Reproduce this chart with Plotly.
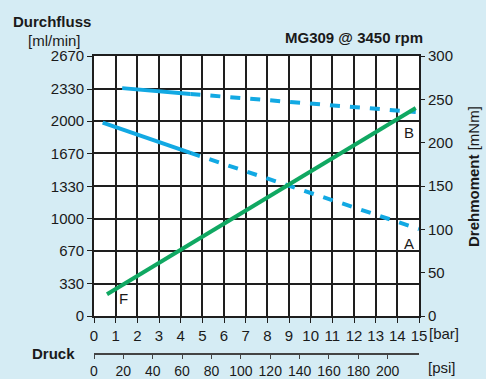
import plotly.graph_objects as go

# ---- data ----
bar_ticks = list(range(0, 16))
flow_ticks = [0, 330, 670, 1000, 1330, 1670, 2000, 2330, 2670]
flow_ticktext = ["0", "330", "670", "1000", "1330", "1670", "2000", "2330", "2670"]
torque_ticks = [0, 50, 100, 150, 200, 250, 300]
psi_ticks = [0, 20, 40, 60, 80, 100, 120, 140, 160, 180, 200]

a_solid_x = [0.4, 4.45]
a_solid_y = [1985, 1675]
a_dash_x = [4.45, 15.0]
a_dash_y = [1675, 893]

b_solid_x = [1.3, 4.45]
b_solid_y = [2340, 2280]
b_dash_x = [4.45, 14.85]
b_dash_y = [2280, 2095]

f_x = [0.6, 14.85]
f_torque = [25, 240]

BLUE = "#12a9e3"
GREEN = "#10a862"
BG = "#d5ecf4"
GRID = "#1e1e1e"
FONT = "Liberation Sans, Arial, sans-serif"

W, H = 486, 379
L_M, R_M, T_M, B_M = 94, 67, 56, 20
AW = W - L_M - R_M
AH = H - T_M - B_M
y_low = (H - B_M - 316) / AH
psi_pos = (H - B_M - 354) / AH


def px(x):
    return (x - L_M) / AW


def py(y):
    return (H - B_M - y) / AH


fig = go.Figure()
fig.add_trace(go.Scatter(x=f_x, y=f_torque, mode="lines", yaxis="y2",
                         line=dict(color=GREEN, width=4), showlegend=False))
fig.add_trace(go.Scatter(x=a_solid_x, y=a_solid_y, mode="lines",
                         line=dict(color=BLUE, width=4), showlegend=False))
fig.add_trace(go.Scatter(x=a_dash_x, y=a_dash_y, mode="lines",
                         line=dict(color=BLUE, width=4, dash="10px,10px"), showlegend=False))
fig.add_trace(go.Scatter(x=b_solid_x, y=b_solid_y, mode="lines",
                         line=dict(color=BLUE, width=4), showlegend=False))
fig.add_trace(go.Scatter(x=b_dash_x, y=b_dash_y, mode="lines",
                         line=dict(color=BLUE, width=4, dash="10px,10px"), showlegend=False))
# invisible trace to activate psi axis
fig.add_trace(go.Scatter(x=[0], y=[0], xaxis="x2", mode="markers",
                         marker=dict(opacity=0), showlegend=False, hoverinfo="skip"))

fig.update_layout(
    width=W, height=H,
    margin=dict(l=L_M, r=R_M, t=T_M, b=B_M, autoexpand=False),
    paper_bgcolor=BG, plot_bgcolor="white",
    font=dict(family=FONT, size=15, color="#1a1a1a"),
    xaxis=dict(range=[0, 15], tickvals=bar_ticks, showgrid=True, gridcolor=GRID,
               gridwidth=1.6, showline=True, linecolor=GRID, linewidth=1.6,
               mirror=True, ticks="outside", ticklen=5, tickcolor=GRID,
               zeroline=False, fixedrange=True, automargin=False),
    yaxis=dict(range=[0, 2670], domain=[y_low, 1], tickvals=flow_ticks,
               ticktext=flow_ticktext, showgrid=True, gridcolor=GRID, gridwidth=1.6,
               showline=True, linecolor=GRID, linewidth=1.6, mirror=True,
               ticks="outside", ticklen=5, tickcolor=GRID, zeroline=False,
               automargin=False),
    yaxis2=dict(range=[0, 300], overlaying="y", side="right", tickvals=torque_ticks,
                showgrid=False, ticks="outside", ticklen=5, tickcolor=GRID,
                zeroline=False, automargin=False, showline=False),
    xaxis2=dict(range=[0, 221.3], overlaying="x", anchor="free", position=psi_pos,
                side="bottom", tickvals=psi_ticks, showgrid=False, showline=True,
                linecolor="#444", linewidth=1.6, ticks="outside", ticklen=4,
                tickcolor="#444", zeroline=False, automargin=False,
                tickfont=dict(size=14)),
)

ann = [
    dict(x=52, y=22, text="<b>Durchfluss</b>", size=15),
    dict(x=54, y=41, text="[ml/min]", size=15),
    dict(x=354, y=38, text="<b>MG309 @ 3450 rpm</b>", size=15),
    dict(x=444, y=333, text="[bar]", size=15),
    dict(x=442, y=367, text="[psi]", size=15),
    dict(x=53, y=353, text="<b>Druck</b>", size=15),
    dict(x=409, y=132, text="B", size=15),
    dict(x=409, y=243, text="A", size=15),
    dict(x=123, y=298, text="F", size=15),
]
for a in ann:
    fig.add_annotation(x=px(a["x"]), y=py(a["y"]), xref="paper", yref="paper",
                       text=a["text"], showarrow=False, xanchor="center", yanchor="middle",
                       font=dict(family=FONT, size=a["size"], color="#1a1a1a"))
fig.add_annotation(x=px(473), y=py(177), xref="paper", yref="paper",
                   text="<b>Drehmoment</b> [mNm]", showarrow=False, textangle=-90,
                   xanchor="center", yanchor="middle",
                   font=dict(family=FONT, size=15, color="#1a1a1a"))

fig.write_html("out.html")
